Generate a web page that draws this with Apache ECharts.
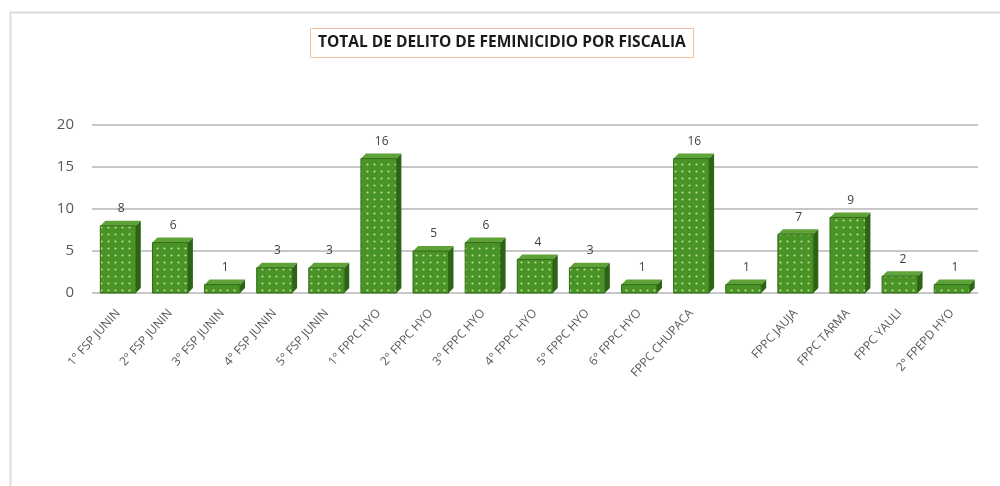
<!DOCTYPE html>
<html>
<head>
<meta charset="utf-8">
<script src="https://cdn.jsdelivr.net/npm/echarts@6/dist/echarts.min.js"></script>
<style>
  html, body { margin: 0; padding: 0; background: #fff; }
  #chart { width: 1000px; height: 486px; }
</style>
</head>
<body>
<div id="chart"></div>
<script>
// data
const categories = [
  '1° FSP JUNIN', '2° FSP JUNIN', '3° FSP JUNIN', '4° FSP JUNIN', '5° FSP JUNIN',
  '1° FPPC HYO', '2° FPPC HYO', '3° FPPC HYO', '4° FPPC HYO', '5° FPPC HYO', '6° FPPC HYO',
  'FPPC CHUPACA', '', 'FPPC JAUJA', 'FPPC TARMA', 'FPPC YAULI', '2° FPEPD HYO'
]
const values = [8, 6, 1, 3, 3, 16, 5, 6, 4, 3, 1, 16, 1, 7, 9, 2, 1]
const yTicks = [0, 5, 10, 15, 20]

// dotted green fill like the office "dots" pattern
function dotPattern() {
  const c = document.createElement('canvas')
  c.width = 7; c.height = 7
  const g = c.getContext('2d')
  g.fillStyle = '#4a9427'
  g.fillRect(0, 0, 7, 7)
  g.fillStyle = '#b9e08f'
  g.beginPath(); g.arc(3.5, 3.5, 1.1, 0, Math.PI * 2); g.fill()
  return c
}
const pattern = { image: dotPattern(), repeat: 'repeat' }

const FONT = '"Open Sans", Lato, sans-serif'
const chart = echarts.init(document.getElementById('chart'))
const DEPTH_X = 5, DEPTH_Y = 5

chart.setOption({
  animation: false,
  textStyle: { fontFamily: FONT },
  title: {
    text: 'TOTAL DE DELITO DE FEMINICIDIO POR FISCALIA',
    left: 310, top: 28,
    padding: [7, 8, 7, 8],
    borderColor: '#f2c0a0', borderWidth: 1,
    textStyle: { fontSize: 15.5, fontWeight: 'bold', color: '#1a1a1a', fontFamily: FONT }
  },
  graphic: [{
    type: 'rect', silent: true, z: -1,
    shape: { x: 10.5, y: 12.5, width: 1000, height: 500 },
    style: { fill: 'none', stroke: '#dcdcdc', lineWidth: 2 }
  }],
  grid: { left: 92, right: 22, top: 125, bottom: 193 },
  xAxis: {
    type: 'category', data: categories,
    axisLine: { show: false }, axisTick: { show: false },
    axisLabel: { rotate: 48, interval: 0, color: '#595959', fontSize: 12, margin: 18 }
  },
  yAxis: {
    type: 'value', min: 0, max: 20, interval: 5,
    axisLine: { show: false }, axisTick: { show: false },
    axisLabel: { color: '#595959', fontSize: 15, margin: 18, fontFamily: FONT,
      formatter: v => yTicks.includes(v) ? String(v) : '' },
    splitLine: { lineStyle: { color: '#c8c8c8', width: 2 } }
  },
  series: [{
    type: 'custom',
    data: values.map((v, i) => [i, v]),
    encode: { x: 0, y: 1 },
    renderItem: (params, api) => {
      const i = api.value(0), v = api.value(1)
      const top = api.coord([i, v]), base = api.coord([i, 0])
      const bw = api.size([1, 0])[0] * 0.68
      const x0 = top[0] - bw / 2, x1 = top[0] + bw / 2
      const y0 = top[1], y1 = base[1]
      return {
        type: 'group',
        children: [
          { type: 'polygon', shape: { points: [[x1, y0], [x1 + DEPTH_X, y0 - DEPTH_Y], [x1 + DEPTH_X, y1 - DEPTH_Y], [x1, y1]] },
            style: { fill: '#2c6314' } },
          { type: 'polygon', shape: { points: [[x0, y0], [x0 + DEPTH_X, y0 - DEPTH_Y], [x1 + DEPTH_X, y0 - DEPTH_Y], [x1, y0]] },
            style: { fill: '#5fa238' } },
          { type: 'rect', shape: { x: x0, y: y0, width: bw, height: y1 - y0 },
            style: { fill: pattern, stroke: '#2f6a17', lineWidth: 1 } },
          { type: 'text', style: { text: String(v), x: top[0] + 3, y: y0 - DEPTH_Y - 6, align: 'center', verticalAlign: 'bottom',
            fill: '#404040', fontSize: 12, fontFamily: FONT } }
        ]
      }
    }
  }]
})
</script>
</body>
</html>
